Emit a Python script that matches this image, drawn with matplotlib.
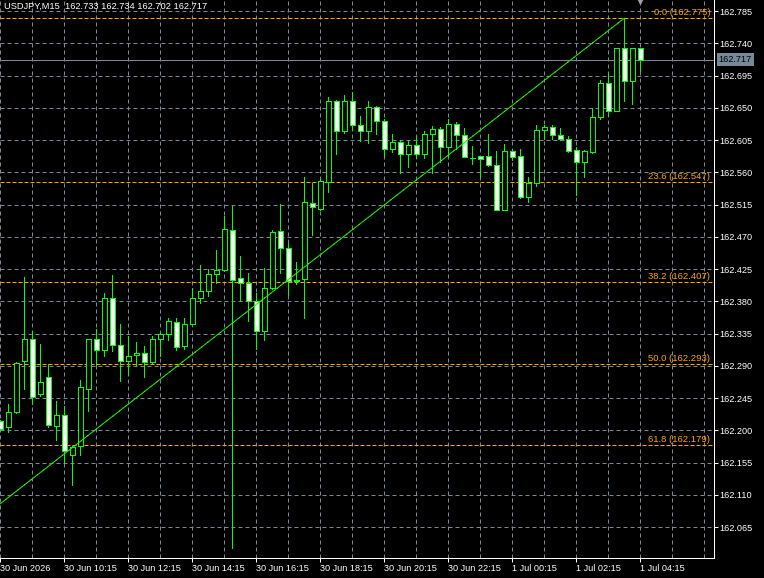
import matplotlib.pyplot as plt
import matplotlib.transforms as mtransforms
from matplotlib.patches import Rectangle

# --- Data (USDJPY M15) ---
header_text = "USDJPY,M15  162.733 162.734 162.702 162.717"

opens = [162.213, 162.204, 162.225, 162.296, 162.327, 162.250, 162.274, 162.206, 162.222, 162.165,
         162.178, 162.257, 162.327, 162.312, 162.384, 162.319, 162.297, 162.305, 162.308, 162.295,
         162.328, 162.335, 162.351, 162.317, 162.349, 162.384, 162.395, 162.418, 162.423, 162.480,
         162.412, 162.405, 162.380, 162.338, 162.398, 162.478, 162.454, 162.409, 162.411, 162.517,
         162.509, 162.547, 162.660, 162.617, 162.659, 162.626, 162.617, 162.651, 162.632, 162.592,
         162.602, 162.585, 162.598, 162.586, 162.614, 162.620, 162.595, 162.628, 162.612, 162.580,
         162.583, 162.583, 162.570, 162.508, 162.590, 162.583, 162.526, 162.545, 162.619, 162.623,
         162.612, 162.606, 162.591, 162.575, 162.588, 162.637, 162.684, 162.646, 162.733, 162.687,
         162.733]
highs = [162.214, 162.237, 162.295, 162.414, 162.338, 162.320, 162.293, 162.241, 162.234, 162.178,
         162.270, 162.328, 162.341, 162.392, 162.417, 162.349, 162.331, 162.323, 162.318, 162.331,
         162.336, 162.356, 162.357, 162.357, 162.399, 162.431, 162.425, 162.452, 162.499, 162.513,
         162.443, 162.419, 162.391, 162.426, 162.479, 162.516, 162.461, 162.435, 162.553, 162.545,
         162.551, 162.665, 162.661, 162.668, 162.672, 162.639, 162.659, 162.653, 162.634, 162.613,
         162.605, 162.605, 162.610, 162.617, 162.624, 162.623, 162.634, 162.630, 162.622, 162.597,
         162.583, 162.613, 162.590, 162.600, 162.591, 162.593, 162.553, 162.626, 162.626, 162.626,
         162.622, 162.611, 162.595, 162.591, 162.650, 162.689, 162.698, 162.734, 162.775, 162.734,
         162.734]
lows = [162.201, 162.197, 162.224, 162.257, 162.236, 162.248, 162.205, 162.186, 162.154, 162.123,
        162.166, 162.227, 162.291, 162.303, 162.311, 162.269, 162.277, 162.291, 162.274, 162.294,
        162.304, 162.326, 162.312, 162.313, 162.348, 162.377, 162.387, 162.405, 162.422, 162.036,
        162.380, 162.352, 162.313, 162.326, 162.397, 162.419, 162.389, 162.404, 162.356, 162.472,
        162.508, 162.532, 162.586, 162.615, 162.619, 162.603, 162.601, 162.614, 162.582, 162.588,
        162.559, 162.568, 162.580, 162.580, 162.559, 162.575, 162.582, 162.592, 162.581, 162.572,
        162.553, 162.569, 162.507, 162.507, 162.577, 162.524, 162.519, 162.541, 162.606, 162.606,
        162.605, 162.589, 162.529, 162.553, 162.587, 162.635, 162.638, 162.645, 162.660, 162.655,
        162.702]
closes = [162.202, 162.225, 162.294, 162.327, 162.246, 162.267, 162.207, 162.222, 162.171, 162.177,
          162.260, 162.327, 162.312, 162.384, 162.319, 162.296, 162.304, 162.308, 162.295, 162.328,
          162.335, 162.353, 162.316, 162.349, 162.384, 162.395, 162.418, 162.423, 162.481, 162.410,
          162.405, 162.380, 162.339, 162.398, 162.476, 162.454, 162.409, 162.410, 162.518, 162.511,
          162.548, 162.660, 162.617, 162.659, 162.626, 162.617, 162.651, 162.631, 162.592, 162.602,
          162.585, 162.598, 162.586, 162.614, 162.620, 162.595, 162.628, 162.612, 162.582, 162.580,
          162.579, 162.570, 162.508, 162.590, 162.582, 162.526, 162.545, 162.619, 162.623, 162.612,
          162.606, 162.590, 162.575, 162.590, 162.637, 162.684, 162.646, 162.733, 162.688, 162.733,
          162.717]

time_labels = ["30 Jun 2026", "30 Jun 10:15", "30 Jun 12:15", "30 Jun 14:15", "30 Jun 16:15",
               "30 Jun 18:15", "30 Jun 20:15", "30 Jun 22:15", "1 Jul 00:15", "1 Jul 02:15",
               "1 Jul 04:15"]
bars_per_label = 8
bars_per_grid = 4

price_ticks = [162.065, 162.110, 162.155, 162.200, 162.245, 162.290, 162.335, 162.380, 162.425,
               162.470, 162.515, 162.560, 162.605, 162.650, 162.695, 162.740, 162.785]

fib_levels = [162.775, 162.547, 162.407, 162.293, 162.179]
fib_labels = ["0.0 (162.775)", "23.6 (162.547)", "38.2 (162.407)", "50.0 (162.293)", "61.8 (162.179)"]

# trend line anchors (bar index, price)
trend_bars = [-33, 78]
trend_prices = [161.811, 162.775]

# --- Style ---
LIME = '#00ff00'
GRID = '#778899'
FIB = '#ffa500'
PX = 0.72  # one pixel in points at 100 dpi
plt.rcParams['font.family'] = ['Liberation Sans', 'DejaVu Sans']
plt.rcParams['font.size'] = 6.6

fig = plt.figure(figsize=(7.64, 5.78), dpi=100, facecolor='black')
ax = fig.add_axes([0, 20 / 578, 713.5 / 764, 558 / 578], facecolor='black')

n = len(opens)
ax.set_xlim(-0.0375, 89.15)
ax.set_ylim(162.0218, 162.8004)

# grid
major_x = list(range(0, n, bars_per_label))
minor_x = list(range(0, 90, bars_per_grid))
ax.set_xticks(major_x)
ax.set_xticklabels(time_labels)
ax.set_xticks(minor_x, minor=True)
ax.set_yticks(price_ticks)
ax.set_yticklabels([f'{p:.3f}' for p in price_ticks])
for x in minor_x:
    ax.axvline(x, color=GRID, lw=PX, ls=(0, (4, 3)), zorder=1)
for p in price_ticks:
    ax.axhline(p, color=GRID, lw=PX, ls=(0, (4, 3)), zorder=1)

# fibo levels
for lvl, lab in zip(fib_levels, fib_labels):
    ax.axhline(lvl, color=FIB, lw=PX, ls=(0, (4, 2)), zorder=2)
    ax.annotate(lab, xy=(1, lvl), xycoords=('axes fraction', 'data'),
                xytext=(-3, 1), textcoords='offset pixels',
                ha='right', va='bottom', color=FIB, fontsize=6.8, zorder=6)

# bid line
last = closes[-1]
ax.axhline(last, color=GRID, lw=PX, zorder=2)

# candles
body_w = 0.58
for i in range(n):
    o, h, l, c = opens[i], highs[i], lows[i], closes[i]
    ax.vlines(i, l, h, color=LIME, lw=PX, zorder=3, antialiased=False)
    fill = 'white' if c < o else 'black'
    ax.add_patch(Rectangle((i - body_w / 2, min(o, c)), body_w, abs(c - o),
                           facecolor=fill, edgecolor=LIME, lw=PX, zorder=4,
                           antialiased=False))

# trend line (green with orange fibo dots)
ax.plot(trend_bars, trend_prices, color=LIME, lw=PX, zorder=5)
ax.plot(trend_bars, trend_prices, color=FIB, lw=PX, ls=(0, (1, 7)), zorder=5)

# header
ax.text(4 / 713.5, 1 - 2 / 558, header_text, transform=ax.transAxes,
        ha='left', va='top', color='white', fontsize=6.7, zorder=7)

# chart shift marker
blend = mtransforms.blended_transform_factory(ax.transData, ax.transAxes)
ax.plot([n - 1], [1 - 2 / 558], marker='v', ms=5, color='#a0a0a0', mec='none',
        transform=blend, clip_on=False, zorder=7)

# bid price label on axis
yblend = mtransforms.blended_transform_factory(ax.transAxes, ax.transData)
ax.text(1 + 5 / 713.5, last, f'{last:.3f}', transform=yblend, ha='left', va='center',
        color='black', fontsize=6.6, clip_on=False, zorder=8,
        bbox=dict(facecolor=GRID, edgecolor='none', pad=1.4))

# axes look
for side in ('left', 'top'):
    ax.spines[side].set_visible(False)
for side in ('right', 'bottom'):
    ax.spines[side].set_color('white')
    ax.spines[side].set_linewidth(PX)
ax.yaxis.tick_right()
ax.tick_params(axis='both', which='major', colors='white', length=3, width=PX, pad=1.5)
ax.tick_params(axis='x', which='minor', length=0)
for t in ax.get_xticklabels():
    t.set_horizontalalignment('left')

fig.savefig('out.png', dpi=100, facecolor='black')
